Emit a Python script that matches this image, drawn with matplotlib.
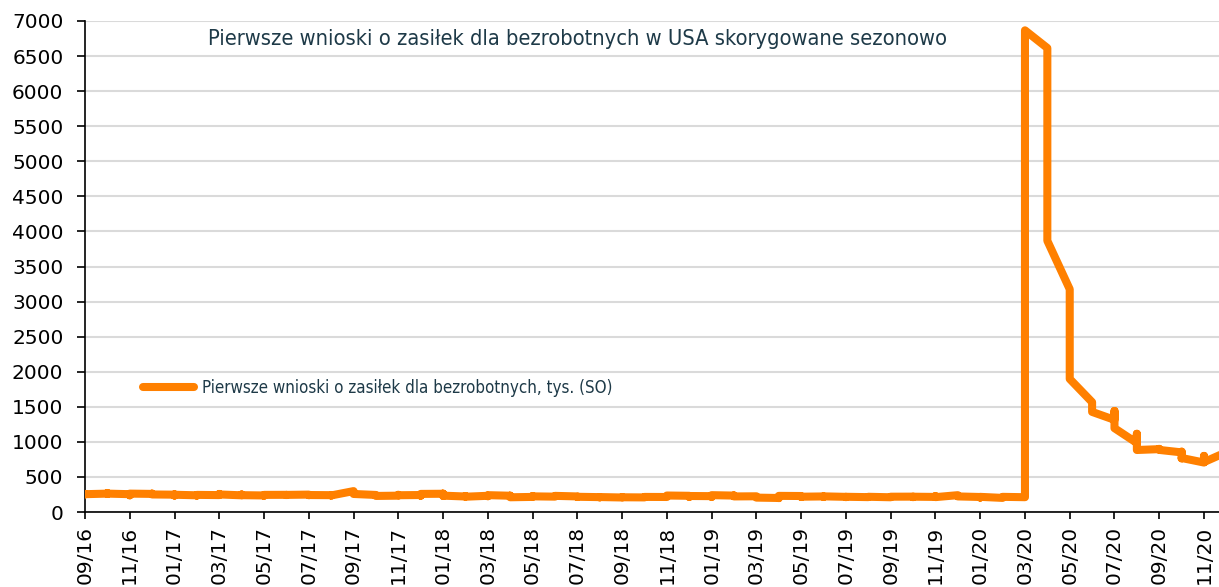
import matplotlib
matplotlib.use("Agg")
import matplotlib.pyplot as plt
import numpy as np

# weekly initial claims (thous., SA), grouped by month - Excel date axis puts
# every week of a month on the same x position
months = ["09/16", "10/16", "11/16", "12/16",
          "01/17", "02/17", "03/17", "04/17", "05/17", "06/17", "07/17", "08/17", "09/17", "10/17", "11/17", "12/17",
          "01/18", "02/18", "03/18", "04/18", "05/18", "06/18", "07/18", "08/18", "09/18", "10/18", "11/18", "12/18",
          "01/19", "02/19", "03/19", "04/19", "05/19", "06/19", "07/19", "08/19", "09/19", "10/19", "11/19", "12/19",
          "01/20", "02/20", "03/20", "04/20", "05/20", "06/20", "07/20", "08/20", "09/20", "10/20", "11/20", "12/20"]

claims_2016 = [[255, 258, 252, 254], [262, 270, 262, 258, 262], [254, 238, 251, 262], [258, 254, 262, 260, 250]]
claims_2017 = [[247, 234, 252, 246], [238, 234, 242, 244], [241, 252, 258, 250], [238, 243, 244, 250, 240],
               [236, 232, 234, 244], [245, 241, 244, 244], [248, 246, 240, 244, 242], [240, 236, 235, 236],
               [298, 284, 262, 259, 257], [243, 232, 234, 229], [233, 245, 239, 239], [242, 232, 242, 250, 258]]
claims_2018 = [[260, 262, 230, 233], [221, 229, 222, 218], [231, 227, 229, 225, 240], [232, 233, 215, 210],
               [215, 223, 228, 223], [219, 225, 228, 227, 230], [222, 215, 216, 217], [212, 209, 210, 213],
               [208, 207, 207, 212, 210], [208, 211, 215, 215], [214, 221, 224, 235], [231, 215, 217, 220, 228]]
claims_2019 = [[226, 222, 215, 240], [234, 236, 228, 222], [224, 222, 215, 211, 205], [200, 198, 211, 230],
               [228, 220, 215, 218], [222, 216, 222, 221, 223], [216, 212, 212, 217], [212, 216, 212, 217, 217],
               [210, 214, 212, 218], [219, 212, 214, 218], [215, 222, 227, 218, 212], [240, 234, 225, 222]]
claims_2020 = [[214, 205, 211, 216], [201, 205, 211, 215, 216], [211, 282, 3307, 6867], [6615, 5237, 4442, 3867],
               [3176, 2687, 2446, 2123, 1897], [1566, 1540, 1482, 1427], [1314, 1307, 1422, 1440, 1195],
               [984, 1115, 1006, 884], [895, 896, 900, 885], [850, 860, 787, 765, 770], [705, 742, 800, 712],
               [853, 885]]

tick_labels = months[::2]

series_label = "Pierwsze wnioski o zasiłek dla bezrobotnych, tys. (SO)"
title = "Pierwsze wnioski o zasiłek dla bezrobotnych w USA skorygowane sezonowo"

by_month = claims_2016 + claims_2017 + claims_2018 + claims_2019 + claims_2020
x = []
y = []
for i, vals in enumerate(by_month):
    for v in vals:
        x.append(i)
        y.append(v)

orange = "#FF8000"
dark = "#1E3A48"

fig = plt.figure(figsize=(12.19, 5.87), dpi=100)
ax = fig.add_axes([85 / 1219, 1 - 512 / 587, 1 - 85 / 1219, (512 - 21) / 587])

ax.plot(x, y, color=orange, lw=5.8, solid_joinstyle="round", solid_capstyle="round",
        label=series_label, zorder=3)

ax.set_ylim(0, 7000)
ax.set_yticks(np.arange(0, 7001, 500))
ax.set_xlim(0, 50.67)
ax.set_xticks(np.arange(0, len(months), 2))
ax.set_xticklabels(tick_labels, rotation=90)

ax.grid(axis="y", color="#DADADA", lw=1.5, zorder=0)
ax.set_axisbelow(True)
for s in ["top", "right"]:
    ax.spines[s].set_visible(False)
for s in ["left", "bottom"]:
    ax.spines[s].set_color("black")
    ax.spines[s].set_linewidth(1.2)
ax.tick_params(axis="both", direction="out", width=1.2, labelsize=14.5, colors="black")
ax.tick_params(axis="y", length=5.5, pad=10)
ax.tick_params(axis="x", length=5, pad=5)

ax.text(0.434, 0.964, title, transform=ax.transAxes, ha="center", va="center",
        fontsize=15.7, color=dark, fontstretch="condensed", family="DejaVu Sans")

leg = ax.legend(loc="upper left", bbox_to_anchor=(0.038, 0.302), frameon=False,
                handlelength=3.0, handletextpad=0.45, prop={"size": 12.2, "stretch": "condensed"})
for t in leg.get_texts():
    t.set_color(dark)

fig.savefig("out.png", dpi=100)
